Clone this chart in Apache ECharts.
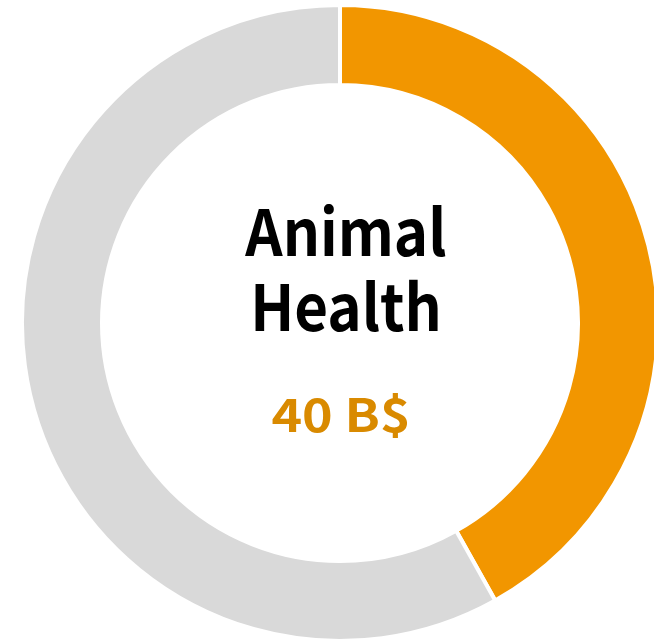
<!DOCTYPE html>
<html>
<head>
<meta charset="utf-8">
<script src="https://cdn.jsdelivr.net/npm/echarts@6/dist/echarts.min.js"></script>
<style>
html,body{margin:0;padding:0;background:#fff;}
#chart{width:654px;height:640px;}
</style>
</head>
<body>
<div id="chart"></div>
<script>
const categories = ['Animal Health', 'Other'];
const values = [40, 55.5];
const colors = ['#F29600', '#D9D9D9'];
const titleLines = ['Animal', 'Health'];
const valueLabel = '40 B$';

const chart = echarts.init(document.getElementById('chart'), null, {renderer: 'canvas'});
const FONT = '"Noto Sans CJK KR", "Noto Sans", sans-serif';
chart.setOption({
  animation: false,
  backgroundColor: '#ffffff',
  series: [{
    type: 'pie',
    center: [340, 323],
    radius: [238, 318],
    startAngle: 90,
    clockwise: true,
    silent: true,
    label: {show: false},
    labelLine: {show: false},
    itemStyle: {borderColor: '#ffffff', borderWidth: 4},
    data: categories.map((c, i) => ({name: c, value: values[i], itemStyle: {color: colors[i]}}))
  }],
  graphic: [
    {type: 'text', x: 346, y: 232, scaleX: 0.91, style: {text: titleLines[0], fill: '#000', font: 'bold 64px ' + FONT, align: 'center', verticalAlign: 'middle'}},
    {type: 'text', x: 346, y: 307, scaleX: 0.91, style: {text: titleLines[1], fill: '#000', font: 'bold 64px ' + FONT, align: 'center', verticalAlign: 'middle'}},
    {type: 'text', x: 341, y: 415, scaleX: 1.13, style: {text: valueLabel, fill: '#D98A00', font: 'bold 46px ' + FONT, align: 'center', verticalAlign: 'middle'}}
  ]
});
</script>
</body>
</html>
